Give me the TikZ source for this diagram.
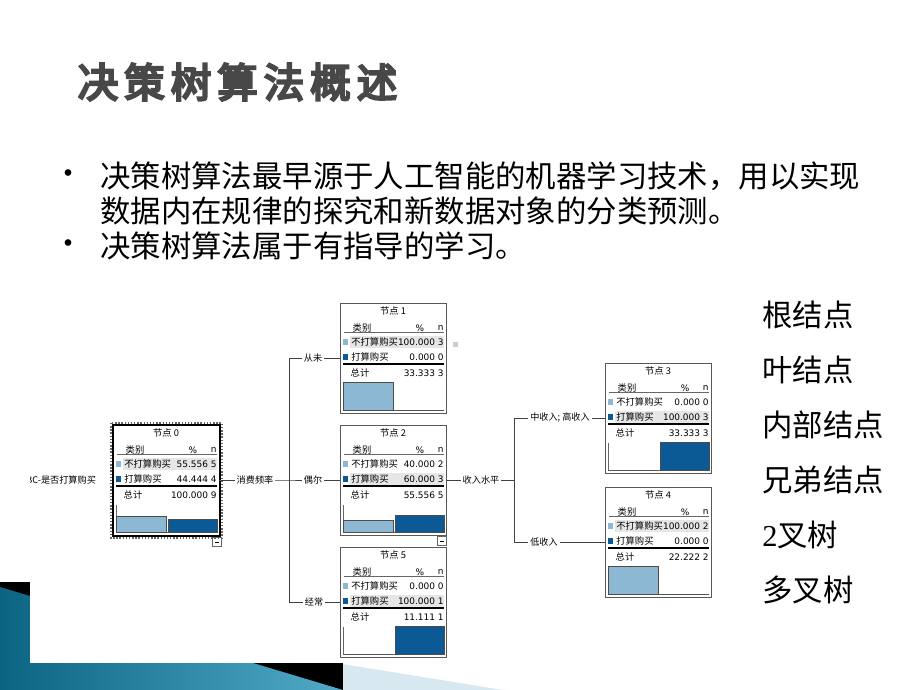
\documentclass[tikz,border=0pt]{standalone}
\usepackage{fontspec}
\setmainfont{Noto Sans CJK SC}
\newfontfamily\numfont{DejaVu Sans}
\newfontfamily\serifnum{Liberation Serif}
\newfontfamily\brushfont[FakeBold=6]{Noto Sans CJK SC}
\usetikzlibrary{calc}

\definecolor{lightbar}{RGB}{141,184,212}
\definecolor{darkbar}{RGB}{11,90,150}
\definecolor{rowgray}{RGB}{230,230,230}
\definecolor{titlegray}{RGB}{72,72,72}
\definecolor{tealdark}{RGB}{10,100,130}
\definecolor{teallight}{RGB}{80,170,200}
\definecolor{paleblue}{RGB}{216,232,241}

\tikzset{
  statbox/.style={draw=black!65, line width=0.5pt, minimum width=2.12cm, minimum height=2.2cm, inner sep=0pt},
  cell/.style={inner sep=0pt, font=\fontsize{5.3}{6}\selectfont},
  numcell/.style={inner sep=0pt, font=\numfont\fontsize{5.1}{6}\selectfont},
  edgelab/.style={inner sep=1pt, font=\fontsize{5.2}{6}\selectfont},
  conn/.style={draw=black!75, line width=0.5pt},
  bar/.style={draw=black!70, line width=0.5pt},
  toggle/.style={draw=black!60, minimum size=0.18cm, inner sep=0pt},
  bigtext/.style={inner sep=0pt, anchor=west, font=\fontsize{17.3}{20}\selectfont},
}

% #1 name, #2 top left, #3 number, #4/#5 row 1, #6/#7 row 2, #8/#9 total
\newcommand\statnode[9]{%
  \node[statbox, anchor=north west] (#1) at (#2) {};
  \begin{scope}[shift={(#1.north west)}]
    \ifdim#4pt>#6pt
      \fill[rowgray] (10,33) rectangle (104,45);
    \else
      \fill[rowgray] (10,48) rectangle (104,60);
    \fi
    \node[cell] at (53,8) {节点 #3};
    \node[cell] at (22,25) {类别};
    \node[numcell] at (80,25) {\%};
    \node[numcell, anchor=east] at (104,25) {n};
    \draw[black!60, line width=0.4pt] (4,29) -- (104,29);
    \fill[lightbar] (3,36) rectangle (8,42);
    \node[cell, anchor=west] at (11,39) {不打算购买};
    \node[numcell, anchor=east] at (104,39) {#4 #5};
    \fill[darkbar] (3,51) rectangle (8,57);
    \node[cell, anchor=west] at (11,54) {打算购买};
    \node[numcell, anchor=east] at (104,54) {#6 #7};
    \draw[line width=0.9pt] (3,61) -- (104,61);
    \node[cell] at (20,70) {总计};
    \node[numcell, anchor=east] at (104,70) {#8 #9};
    \draw[black!60] (3,80) -- (3,107) -- (104,107);
    \filldraw[fill=lightbar, bar] (3,{107-#4*0.28}) rectangle (53,107);
    \filldraw[fill=darkbar, bar] (55,{107-#6*0.28}) rectangle (104,107);
    \coordinate (#1-in) at (0,55);
    \coordinate (#1-out) at (106,55);
  \end{scope}
}

\begin{document}
\begin{tikzpicture}[x=0.02cm, y=-0.02cm]
  \useasboundingbox (0,0) rectangle (920,690);
  % corner decoration
  \fill[paleblue] (200,641) -- (503,690) -- (200,690) -- cycle;
  \fill[black] (0,582) rectangle (343,690);
  \shade[left color=tealdark, right color=teallight] (0,587) -- (343,690) -- (0,690) -- cycle;
  \fill[white] (30,560) rectangle (343,663);

  % title
  \foreach \ch [count=\i from 0] in {决,策,树,算,法,概,述}
    \node[inner sep=0pt, text=titlegray, font=\brushfont\fontsize{23}{25}\selectfont] (title\i) at (98+46.5*\i,82) {\ch};

  % bullets
  \node[inner sep=0pt, font=\numfont\fontsize{13}{14}\selectfont] (dot1) at (68,176) {•};
  \node[bigtext] (line1) at (100,176) {决策树算法最早源于人工智能的机器学习技术，用以实现};
  \node[bigtext] (line2) at (100,211) {数据内在规律的探究和新数据对象的分类预测。};
  \node[inner sep=0pt, font=\numfont\fontsize{13}{14}\selectfont] (dot2) at (68,246) {•};
  \node[bigtext] (line3) at (100,246) {决策树算法属于有指导的学习。};

  % terms on the right
  \foreach \t [count=\i from 0] in {根结点,叶结点,内部结点,兄弟结点,{\serifnum 2}叉树,多叉树}
    \node[bigtext] (term\i) at (762,315+55*\i) {\t};

  % tree
  \statnode{n0}{113,425}{0}{55.556}{5}{44.444}{4}{100.000}{9}
  \statnode{n1}{340,303}{1}{100.000}{3}{0.000}{0}{33.333}{3}
  \statnode{n2}{340,425}{2}{40.000}{2}{60.000}{3}{55.556}{5}
  \statnode{n5}{340,547}{5}{0.000}{0}{100.000}{1}{11.111}{1}
  \statnode{n3}{605,363}{3}{0.000}{0}{100.000}{3}{33.333}{3}
  \statnode{n4}{605,487}{4}{100.000}{2}{0.000}{0}{22.222}{2}
  \draw[line width=1.1pt] (n0.north west) rectangle (n0.south east);
  \draw[densely dotted, black!60, line width=0.8pt] ([shift={(-2,-2)}]n0.north west) rectangle ([shift={(2,2)}]n0.south east);
  \node[toggle] (n0-tg) at (217,542) {};
  \draw ([xshift=1.5pt]n0-tg.west) -- ([xshift=-1.5pt]n0-tg.east);
  \node[toggle] (n2-tg) at (442,541) {};
  \draw ([xshift=1.5pt]n2-tg.west) -- ([xshift=-1.5pt]n2-tg.east);
  \fill[black!20] (453,342) rectangle (458,347);

  \begin{scope}
    \clip (30,460) rectangle (110,500);
    \node[edgelab, anchor=east] (target) at (98,480) {BC-是否打算购买};
  \end{scope}
  \node[edgelab] (freq) at (255,480) {消费频率};
  \node[edgelab] (never) at (313,358) {从未};
  \node[edgelab] (occ) at (313,480) {偶尔};
  \node[edgelab] (often) at (314,602) {经常};
  \node[edgelab] (income) at (481,480) {收入水平};
  \node[edgelab] (midhigh) at (560,418) {中收入; 高收入};
  \node[edgelab] (low) at (544,542) {低收入};
  \coordinate (fork1) at (289,480);
  \coordinate (fork2) at (514,480);

  \draw[conn] (n0-out) -- (freq) -- (fork1) -- (occ) -- (n2-in);
  \draw[conn] (fork1) |- (never) -- (n1-in);
  \draw[conn] (fork1) |- (often) -- (n5-in);
  \draw[conn] (n2-out) -- (income) -- (fork2);
  \draw[conn] (fork2) |- (midhigh) -- (n3-in);
  \draw[conn] (fork2) |- (low) -- (n4-in);
\end{tikzpicture}
\end{document}
